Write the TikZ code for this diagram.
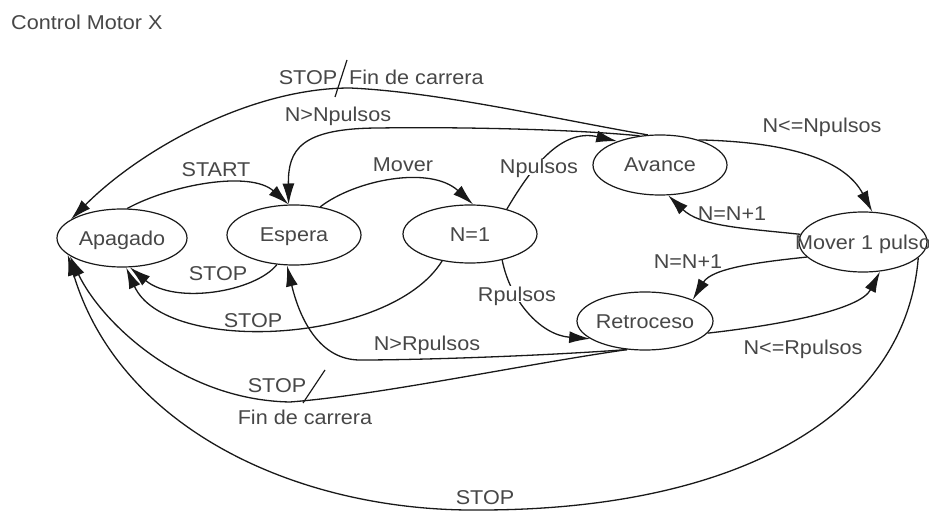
\documentclass[tikz,border=0pt]{standalone}
\usepackage{fontspec}
\setmainfont{Liberation Sans}[FakeStretch=1.08]
\usepackage{tikz}
\usetikzlibrary{shapes.geometric, arrows.meta}
\definecolor{txtgray}{gray}{0.28}
\definecolor{linegray}{gray}{0.1}
\tikzstyle{state} = [ellipse, draw=linegray, line width=1.2pt, minimum height=58pt, minimum width=134pt, inner sep=0pt, text height=14pt, text depth=0pt]
\tikzstyle{arrow} = [color=linegray, line width=1.3pt, -{Latex[length=21pt, width=12pt]}]
\tikzstyle{cond} = [inner sep=1pt, text height=14pt, text depth=0pt, text=txtgray]
\newcommand{\stname}[1]{\makebox[0pt]{#1}}

\begin{document}
\begin{tikzpicture}[x=1pt, y=-1pt, font=\fontsize{20}{24}\selectfont, text=txtgray]
    \useasboundingbox (0,0) rectangle (929,513);

    \node (title) [anchor=west, inner sep=0pt] at (11,22) {Control Motor X};

    % States
    \node (apagado) [state, minimum width=130pt] at (122,238) {\stname{Apagado}};
    \node (espera) [state, minimum height=60pt] at (294,235) {\stname{Espera}};
    \node (n1) [state] at (470,234) {\stname{N=1}};
    \node (avance) [state, minimum height=60pt] at (660,165) {\stname{Avance}};
    \node (mover) [state, minimum width=128pt, minimum height=60pt] at (863,242) {\stname{Mover 1 pulso}};
    \node (retro) [state, minimum width=136pt] at (645,321) {\stname{Retroceso}};

    % ==== Arrows
    % Start and stop
    \draw [arrow] (apagado.80) .. controls (170,185) and (250,170) .. (espera.100);
    \draw [arrow] (espera.240) .. controls (255,292) and (175,305) .. (apagado.-75);
    \draw [arrow] (n1.224) .. controls (390,345) and (165,355) .. (apagado.-82);
    \draw [arrow] (espera.47) .. controls (355,180) and (430,165) .. (n1.84);

    % N=1 branches
    \draw [arrow] (n1.34) .. controls (530,170) and (560,128) .. (avance.151);
    \draw [arrow] (n1.-39) .. controls (510,300) and (540,335) .. (retro.198);

    % Avance
    \draw [arrow] (avance.125) .. controls (560,128) and (430,127) .. (380,128)
        .. controls (300,128) and (288,150) .. (espera.100);
    \draw [arrow] (avance.112) .. controls (560,120) and (440,92) .. (350,88)
        .. controls (250,88) and (140,150) .. (apagado.160);
    \draw [arrow] (avance.33) .. controls (790,142) and (845,160) .. (mover.73);

    % Mover 1 pulso
    \draw [arrow] (mover.173) .. controls (740,228) and (700,226) .. (avance.-75);
    \draw [arrow] (mover.195) .. controls (760,262) and (712,268) .. (retro.24);
    \draw [arrow] (mover.-16) .. controls (905,420) and (730,510) .. (480,510)
        .. controls (300,512) and (120,430) .. (apagado.197);

    % Retroceso
    \draw [arrow] (retro.-11) .. controls (780,325) and (860,310) .. (mover.-60);
    \draw [arrow] (retro.238) .. controls (540,356) and (420,360) .. (360,360)
        .. controls (320,360) and (300,320) .. (espera.257);
    \draw [arrow] (retro.238) .. controls (520,365) and (380,395) .. (290,402)
        .. controls (180,400) and (100,320) .. (apagado.199);

    % Conditions
    \node (lstart) [cond] at (216,170) {START};
    \node (lstop1) [cond] at (218,273) {STOP};
    \node (lstop2) [cond] at (253,320) {STOP};
    \node (lmover) [cond] at (403,165) {Mover};
    \node (lnpul) [cond, fill=white] at (539,167) {Npulsos};
    \node (lrpul) [cond, fill=white] at (517,294) {Rpulsos};
    \node (lngtn) [cond] at (338,115) {N>Npulsos};
    \node (lstop3) [cond] at (308,78) {STOP};
    \node (lfin3) [cond, anchor=west] at (348,78) {Fin de carrera};
    \draw [draw=linegray, line width=1.2pt] (335,97) -- (347,60);
    \node (llen) [cond] at (822,126) {N<=Npulsos};
    \node (linc1) [cond] at (732,214) {N=N+1};
    \node (linc2) [cond] at (688,262) {N=N+1};
    \node (llern) [cond] at (803,347) {N<=Rpulsos};
    \node (lngtr) [cond] at (427,343) {N>Rpulsos};
    \node (lstop4) [cond] at (277,385) {STOP};
    \draw [draw=linegray, line width=1.2pt] (303,403) -- (325,370);
    \node (lfin4) [cond] at (305,417) {Fin de carrera};
    \node (lstop5) [cond] at (485,497) {STOP};
\end{tikzpicture}
\end{document}
